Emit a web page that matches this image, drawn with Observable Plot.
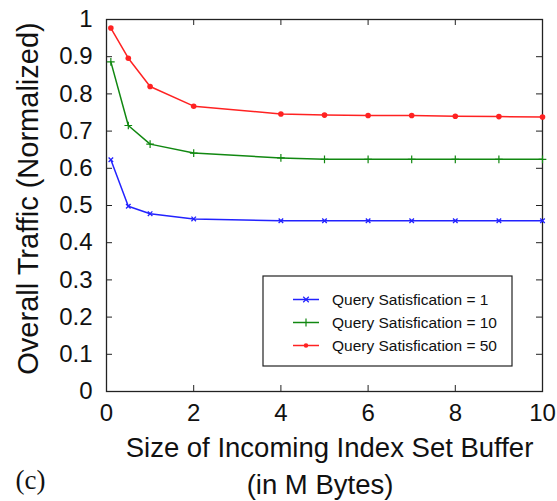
<!DOCTYPE html>
<html>
<head>
<meta charset="utf-8">
<script src="https://cdn.jsdelivr.net/npm/d3@7"></script>
<script src="https://cdn.jsdelivr.net/npm/@observablehq/plot@0.6"></script>
<style>
  body { margin: 0; background: #fff; }
  #chart svg { display: block; }
</style>
</head>
<body>
<div id="chart"></div>
<script>
// Buffer sizes (M Bytes) and normalized overall traffic for each query satisfaction level
const bufferSizes = [0.1, 0.5, 1, 2, 4, 5, 6, 7, 8, 9, 10];
const trafficQs1  = [0.623, 0.498, 0.478, 0.464, 0.459, 0.459, 0.459, 0.459, 0.459, 0.459, 0.459];
const trafficQs10 = [0.886, 0.715, 0.665, 0.641, 0.628, 0.624, 0.624, 0.624, 0.624, 0.624, 0.624];
const trafficQs50 = [0.977, 0.896, 0.820, 0.767, 0.746, 0.743, 0.742, 0.742, 0.740, 0.739, 0.738];
const seriesNames = ["Query Satisfication = 1", "Query Satisfication = 10", "Query Satisfication = 50"];
const seriesColors = ["#2222ff", "#118811", "#ff2222"];
const xTicks = [0, 2, 4, 6, 8, 10];
const yTicks = [0, 0.1, 0.2, 0.3, 0.4, 0.5, 0.6, 0.7, 0.8, 0.9, 1];

const W = 557, H = 501;
const M = {top: 19, right: 15, bottom: 110, left: 106};
const plotW = W - M.left - M.right, plotH = H - M.top - M.bottom;
const tickLen = 6;
const sans = "'Liberation Sans', Arial, Helvetica, sans-serif";

const rows = [trafficQs1, trafficQs10, trafficQs50].flatMap((vals, s) =>
  vals.map((v, i) => ({series: seriesNames[s], size: bufferSizes[i], traffic: v}))
);
const bySeries = name => rows.filter(d => d.series === name);

// Legend box drawn inside the lower right of the plot frame
function legend() {
  const boxRight = W - M.right - 30, boxBottom = H - M.bottom - 25;
  const boxW = 249, boxH = 90;
  const x0 = boxRight - boxW, y0 = boxBottom - boxH;
  const g = d3.create("svg:g");
  g.append("rect")
    .attr("x", x0).attr("y", y0).attr("width", boxW).attr("height", boxH)
    .attr("fill", "#fff").attr("stroke", "#222").attr("stroke-width", 1.2);
  const symbolTypes = [d3.symbolTimes, d3.symbolPlus, d3.symbolCircle];
  seriesNames.forEach((name, i) => {
    const cy = y0 + 23.5 + i * 23;
    const lx = x0 + 30;
    g.append("line")
      .attr("x1", lx).attr("x2", lx + 26).attr("y1", cy).attr("y2", cy)
      .attr("stroke", seriesColors[i]).attr("stroke-width", 1.5);
    const sym = g.append("path")
      .attr("transform", `translate(${lx + 13},${cy})`)
      .attr("d", d3.symbol(symbolTypes[i], i === 2 ? 16 : 22)());
    if (i === 2) sym.attr("fill", seriesColors[i]);
    else sym.attr("fill", "none").attr("stroke", seriesColors[i]).attr("stroke-width", 1.2);
    g.append("text")
      .attr("x", x0 + 69).attr("y", cy).attr("dy", "0.35em")
      .attr("text-anchor", "start")
      .attr("font-family", sans).attr("font-size", 15.5).attr("fill", "#111")
      .text(name);
  });
  return g.node();
}

const chart = Plot.plot({
  width: W,
  height: H,
  marginTop: M.top,
  marginRight: M.right,
  marginBottom: M.bottom,
  marginLeft: M.left,
  style: {background: "#fff", fontFamily: sans, color: "#111"},
  x: {domain: [0, 10]},
  y: {domain: [0, 1]},
  marks: [
    // tick labels
    Plot.axisX(xTicks, {anchor: "bottom", tickSize: 0, tickPadding: 12, fontSize: 24, label: null, stroke: "none"}),
    Plot.axisY(yTicks, {anchor: "left", tickSize: 0, tickPadding: 14, fontSize: 24, label: null, stroke: "none",
      tickFormat: d => String(+d.toFixed(1))}),
    // inward ticks on all four sides of the box
    Plot.tickX(xTicks, {x: d => d, insetTop: plotH - tickLen, stroke: "#222"}),
    Plot.tickX(xTicks, {x: d => d, insetBottom: plotH - tickLen, stroke: "#222"}),
    Plot.tickY(yTicks, {y: d => d, insetRight: plotW - tickLen, stroke: "#222"}),
    Plot.tickY(yTicks, {y: d => d, insetLeft: plotW - tickLen, stroke: "#222"}),
    Plot.frame({stroke: "#222", strokeWidth: 1.3}),
    // series
    ...seriesNames.map((name, i) =>
      Plot.line(bySeries(name), {x: "size", y: "traffic", stroke: seriesColors[i], strokeWidth: 1.5})
    ),
    Plot.dot(bySeries(seriesNames[0]), {x: "size", y: "traffic", symbol: "times", r: 2.2, stroke: seriesColors[0], strokeWidth: 1.3}),
    Plot.dot(bySeries(seriesNames[1]), {x: "size", y: "traffic", symbol: "plus", r: 2.6, stroke: seriesColors[1], strokeWidth: 1.2}),
    Plot.dot(bySeries(seriesNames[2]), {x: "size", y: "traffic", symbol: "circle", r: 2.8, fill: seriesColors[2], stroke: "none"}),
    legend,
    // axis titles and panel tag
    Plot.text(["Overall Traffic (Normalized)"], {frameAnchor: "left", rotate: -90, dx: -78, dy: -7,
      fontSize: 29, lineAnchor: "middle", textAnchor: "middle", fill: "#111"}),
    Plot.text(["Size of Incoming Index Set Buffer"], {frameAnchor: "bottom", dx: 5, dy: 57,
      fontSize: 27.5, lineAnchor: "middle", fill: "#111"}),
    Plot.text(["(in M Bytes)"], {frameAnchor: "bottom", dx: -4.5, dy: 94,
      fontSize: 27.5, lineAnchor: "middle", fill: "#111"}),
    Plot.text(["(c)"], {frameAnchor: "bottom-left", dx: -91, dy: 89, textAnchor: "start",
      fontSize: 27, lineAnchor: "middle", fill: "#111", fontFamily: "'Liberation Serif', 'Times New Roman', serif"})
  ]
});

document.getElementById("chart").append(chart);
</script>
</body>
</html>
